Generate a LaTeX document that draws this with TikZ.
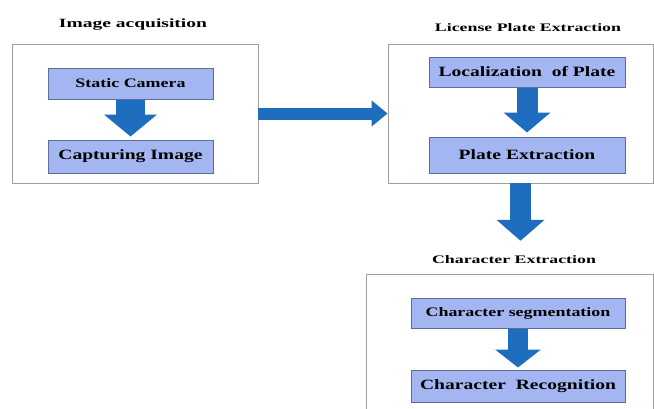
\documentclass[tikz,border=0pt]{standalone}
\usepackage{fontspec}
\setmainfont{Liberation Serif}
\newfontfamily\stagefont[FakeStretch=1.38]{Liberation Serif}
\newfontfamily\headfont[FakeStretch=1.55]{Liberation Serif}
\usetikzlibrary{arrows.meta}
\definecolor{boxfill}{HTML}{A4B6F2}
\definecolor{boxedge}{HTML}{5E6C98}
\definecolor{arrowblue}{HTML}{1E6DBE}
\tikzset{
  group/.style={draw=gray!75, line width=0.8pt, minimum width=#1},
  stage/.style={draw=boxedge, fill=boxfill, line width=1pt, inner sep=0pt, font=\stagefont\bfseries\fontsize{13}{15}\selectfont},
  bigstage/.style={stage, font=\stagefont\bfseries\fontsize{14.2}{16}\selectfont},
  heading/.style={font=\headfont\bfseries\fontsize{11.5}{13}\selectfont, inner sep=1pt},
  flow/.style={draw=arrowblue, line width=21pt, -{Triangle[width=46pt,length=20pt]}},
  flowh/.style={draw=arrowblue, line width=12pt, -{Triangle[width=25pt,length=16pt]}}
}
\begin{document}
\begin{tikzpicture}[x=1pt,y=-1pt]
  \useasboundingbox (0,0) rectangle (654,408);
  \clip (0,0) rectangle (654,408);
  \node[heading, font=\headfont\bfseries\fontsize{12.6}{14}\selectfont] (acqtitle) at (133,25) {Image acquisition};
  \node[heading] (lptitle) at (528,28) {License Plate Extraction};
  \node[heading] (chtitle) at (514,260) {Character Extraction};
  \node[group=246pt, minimum height=139pt] (acq) at (135,113.5) {};
  \node[group=265pt, minimum height=139pt] (lp) at (520.5,113.5) {};
  \node[group=287pt, minimum height=146pt] (ch) at (509.5,347) {};
  \node[stage, minimum width=165pt, minimum height=31pt] (cam) at (130.5,83.5) {Static Camera};
  \node[bigstage, minimum width=165pt, minimum height=33pt] (cap) at (130.5,156.5) {Capturing Image};
  \node[bigstage, minimum width=196pt, minimum height=30pt] (loc) at (527,72) {Localization~ of Plate};
  \node[bigstage, minimum width=196pt, minimum height=36pt] (pex) at (527,155) {Plate Extraction};
  \node[stage, minimum width=214pt, minimum height=30pt] (seg) at (518,313) {Character segmentation};
  \node[bigstage, minimum width=214pt, minimum height=32pt] (rec) at (518,386) {Character~ Recognition};
  \draw[flow, line width=29pt, -{Triangle[width=52pt,length=22pt]}, shorten >=3pt] (cam) -- (cap);
  \draw[flow, shorten >=4pt] (loc) -- (pex);
  \draw[flow, line width=20pt, -{Triangle[width=45pt,length=18pt]}, shorten >=2pt] (seg) -- (rec);
  \draw[flowh] (acq) -- (lp);
  \draw[flow, -{Triangle[width=47pt,length=21pt]}, shorten >=14pt] (lp.south) -- (chtitle.north -| lp.south);
\end{tikzpicture}
\end{document}
